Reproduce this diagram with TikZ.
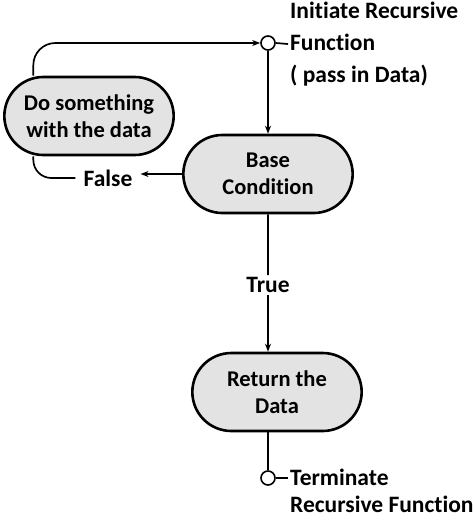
\documentclass[tikz,border=0pt]{standalone}
\usepackage{fontspec}
\setmainfont{Carlito}[Ligatures=NoCommon]
\usetikzlibrary{shapes.misc,arrows.meta}

\tikzset{
  pill/.style={rounded rectangle, draw, line width=2.6pt, fill=black!11,
    minimum width=176pt, minimum height=78pt, align=center,
    font=\fontsize{22.5}{27}\selectfont\bfseries},
  pin/.style={circle, draw, line width=1.6pt, fill=white, minimum size=14pt, inner sep=0pt},
  conn/.style={line width=1.7pt},
  arr/.style={conn, -{Stealth[length=8pt,width=6pt]}},
  lbl/.style={font=\fontsize{23.5}{27}\selectfont\bfseries, inner sep=2pt}
}

\begin{document}
\begin{tikzpicture}[x=1pt, y=-1pt]

% 1. Frame
\useasboundingbox (0,0) rectangle (474,523);

% 2. Nodes
\node[pin] (startc) at (268,43) {};
\node[pill] (base) at (268,174) {Base\\Condition};
\node[pill] (work) at (89,116) {Do something\\with the data};
\node[pill] (ret) at (277,392) {Return the\\Data};
\node[pin] (endc) at (268,478) {};

% 3. Labels
\node[lbl, anchor=west, align=left, font=\fontsize{23.5}{32}\selectfont\bfseries] (startlbl) at (288,44)
  {Initiate Recursive\\Function\\( pass in Data)};
\node[lbl, anchor=west, align=left] (endlbl) at (288,491)
  {Terminate\\Recursive Function};
\node[lbl, inner xsep=8pt] (flabel) at (108,178) {False};
\node[lbl] (tlabel) at (268,285) {True};
\coordinate (endtip) at (288,478);

% 4. Connectors
\draw[arr] (startc) -- (base);
\draw[arr] (base.west) -- (base.west -| flabel.east);
\draw[conn, rounded corners=18pt] (flabel.west) -| ([xshift=-10pt]work.south west);
\draw[arr, rounded corners=22pt] ([xshift=-10pt]work.north west) |- (startc.west);
\draw[conn] (base) -- (tlabel);
\draw[arr] (tlabel) -- (tlabel |- ret.north);
\draw[conn] (endc |- ret.south) -- (endc);
\draw[conn] (startc.east) -- (startlbl.west);
\draw[conn] (endc.east) -- (endtip);

\end{tikzpicture}
\end{document}
